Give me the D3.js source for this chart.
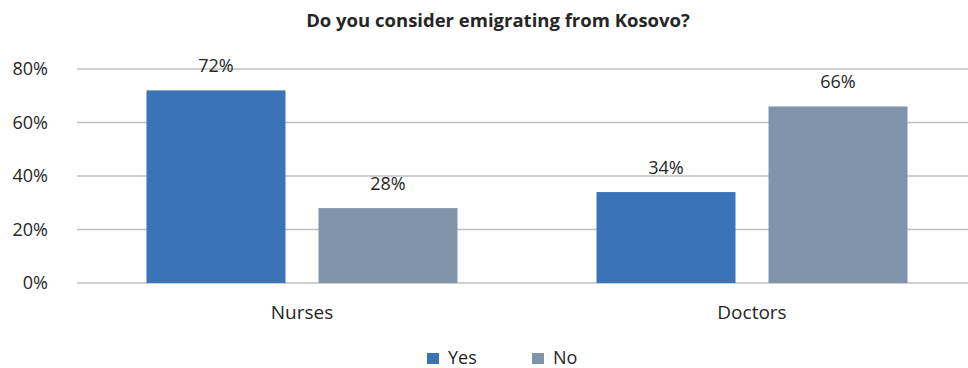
<!DOCTYPE html>
<html>
<head>
<meta charset="utf-8">
<script src="https://cdn.jsdelivr.net/npm/d3@7"></script>
<style>
  body { margin: 0; background: #fff; }
  text { font-family: "Open Sans", sans-serif; fill: #262626; }
</style>
</head>
<body>
<div id="chart"></div>
<script>
// data
var categories = ["Nurses", "Doctors"]
var seriesNames = ["Yes", "No"]
var yesValues = [72, 34]
var noValues = [28, 66]
var yTicks = [0, 20, 40, 60, 80]
var colors = ["#3b73b9", "#7f93ab"]

var svgSize = { width: 968, height: 368 }

var svg = d3.select("#chart").append("svg")
    .attr("width", svgSize.width)
    .attr("height", svgSize.height)

var xScale = d3.scaleBand()
    .domain(categories)
    .range([77, 977])
    .padding(0)

var xInner = d3.scaleBand()
    .domain(seriesNames)
    .range([0, xScale.bandwidth()])
    .paddingInner(0.192)
    .paddingOuter(0.404)

var yScale = d3.scaleLinear()
    .domain([0, 80])
    .range([283, 69])

// title
svg.append("text")
    .attr("x", 498)
    .attr("y", 27)
    .attr("text-anchor", "middle")
    .style("font-size", "18.5px")
    .style("font-weight", "bold")
    .text("Do you consider emigrating from Kosovo?")

// gridlines
svg.append("g").selectAll("line").data(yTicks)
    .enter().append("line")
    .attr("x1", 77)
    .attr("x2", svgSize.width)
    .attr("y1", d => yScale(d))
    .attr("y2", d => yScale(d))
    .attr("stroke", "#bfbfbf")
    .attr("stroke-width", 1.5)

// y axis labels
var leftAxis = d3.axisLeft(yScale)
    .tickValues(yTicks)
    .tickFormat(d => d + "%")
    .tickSize(0)
    .tickPadding(0)
var yAxis = svg.append("g").attr("transform", "translate(48,0)").call(leftAxis)
yAxis.select(".domain").remove()
yAxis.selectAll("text")
    .style("font-size", "18px")
    .style("font-family", "Open Sans, sans-serif")
    .attr("fill", "#262626")

// bars
var rows = categories.map((c, i) => ({ category: c, values: [
    { key: "Yes", value: yesValues[i] },
    { key: "No", value: noValues[i] }
]}))

var groups = svg.append("g").selectAll("g").data(rows)
    .enter().append("g")
    .attr("transform", d => `translate(${xScale(d.category)},0)`)

groups.selectAll("rect").data(d => d.values)
    .enter().append("rect")
    .attr("x", d => xInner(d.key))
    .attr("y", d => yScale(d.value))
    .attr("width", xInner.bandwidth())
    .attr("height", d => yScale(0) - yScale(d.value))
    .attr("fill", (d, i) => colors[i])

groups.selectAll("text").data(d => d.values)
    .enter().append("text")
    .attr("x", d => xInner(d.key) + xInner.bandwidth() / 2)
    .attr("y", d => yScale(d.value) - 18)
    .attr("text-anchor", "middle")
    .style("font-size", "18px")
    .text(d => d.value + "%")

// category labels
var bottomAxis = d3.axisBottom(xScale).tickSize(0).tickPadding(0)
var xAxis = svg.append("g").attr("transform", "translate(0,305)").call(bottomAxis)
xAxis.select(".domain").remove()
xAxis.selectAll("text")
    .style("font-size", "19px")
    .style("font-family", "Open Sans, sans-serif")
    .attr("fill", "#262626")

// legend
var legendX = [427, 532]
var legend = svg.append("g").selectAll("g").data(seriesNames)
    .enter().append("g")
    .attr("transform", (d, i) => `translate(${legendX[i]},353)`)
legend.append("rect")
    .attr("width", 12)
    .attr("height", 11)
    .attr("fill", (d, i) => colors[i])
legend.append("text")
    .attr("x", 21)
    .attr("y", 11)
    .style("font-size", "18px")
    .text(d => d)
</script>
</body>
</html>
